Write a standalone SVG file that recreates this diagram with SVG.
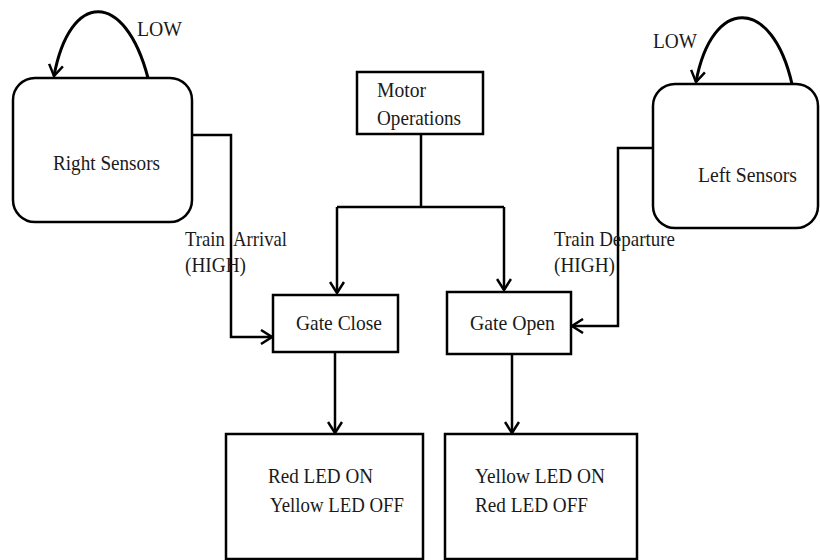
<svg xmlns="http://www.w3.org/2000/svg" width="820" height="560" viewBox="0 0 820 560">
<style>
.box{fill:#fff;stroke:#000;stroke-width:2.5}
.ln{fill:none;stroke:#000;stroke-width:2.5}
.lp{fill:none;stroke:#000;stroke-width:3}
text{font-family:"Liberation Serif","Times New Roman",serif;fill:#1a1a1a;font-size:22px}
.sm{font-size:21px}
</style>
<defs>
<marker id="ah" markerUnits="userSpaceOnUse" markerWidth="14" markerHeight="16" viewBox="0 0 14 16" refX="12" refY="8" orient="auto">
<path d="M1,1 L12,8 L1,15" fill="none" stroke="#000" stroke-width="2.5"/>
</marker>
</defs>
<rect width="820" height="560" fill="#fff"/>
<g id="connectors">
<path class="lp" d="M148,78 C125,-10 70,-10 54,76" marker-end="url(#ah)"/>
<path class="lp" d="M792,84 C772,-4 712,-4 696,82" marker-end="url(#ah)"/>
<path class="ln" d="M421,134 V207"/>
<path class="ln" d="M337,207 H504"/>
<path class="ln" d="M337,207 V293" marker-end="url(#ah)"/>
<path class="ln" d="M504,207 V290" marker-end="url(#ah)"/>
<path class="ln" d="M192,135 H231 V337 H272" marker-end="url(#ah)"/>
<path class="ln" d="M653,148 H618 V326 H572" marker-end="url(#ah)"/>
<path class="ln" d="M335,352 V433" marker-end="url(#ah)"/>
<path class="ln" d="M512,354 V433" marker-end="url(#ah)"/>
</g>
<g id="right-sensors">
<rect class="box" x="13" y="78" width="179" height="144" rx="22"/>
<text x="53" y="170" textLength="107" lengthAdjust="spacingAndGlyphs">Right Sensors</text>
<text x="137" y="36" textLength="45" lengthAdjust="spacingAndGlyphs">LOW</text>
</g>
<g id="left-sensors">
<rect class="box" x="653" y="84" width="165" height="144" rx="22"/>
<text x="698" y="182" textLength="99" lengthAdjust="spacingAndGlyphs">Left Sensors</text>
<text x="653" y="48" textLength="44" lengthAdjust="spacingAndGlyphs">LOW</text>
</g>
<g id="motor-operations">
<rect class="box" x="357" y="72" width="126" height="62"/>
<text x="377" y="97" textLength="49" lengthAdjust="spacingAndGlyphs">Motor</text>
<text x="377" y="125" textLength="84" lengthAdjust="spacingAndGlyphs">Operations</text>
</g>
<g id="gate-close">
<rect class="box" x="273" y="295" width="125" height="57"/>
<text x="296" y="330" textLength="86" lengthAdjust="spacingAndGlyphs">Gate Close</text>
</g>
<g id="gate-open">
<rect class="box" x="447" y="292" width="124" height="62"/>
<text x="470" y="330" textLength="85" lengthAdjust="spacingAndGlyphs">Gate Open</text>
</g>
<g id="train-arrival-label">
<text x="185" y="246" xml:space="preserve" textLength="102" lengthAdjust="spacingAndGlyphs">Train  Arrival</text>
<text x="185" y="272" textLength="61" lengthAdjust="spacingAndGlyphs">(HIGH)</text>
</g>
<g id="train-departure-label">
<text x="554" y="246" textLength="121" lengthAdjust="spacingAndGlyphs">Train Departure</text>
<text x="554" y="272" textLength="61" lengthAdjust="spacingAndGlyphs">(HIGH)</text>
</g>
<g id="red-on">
<rect class="box" x="226" y="434" width="197" height="125"/>
<text class="sm" x="268" y="483" textLength="105" lengthAdjust="spacingAndGlyphs">Red LED ON</text>
<text class="sm" x="270" y="512" textLength="134" lengthAdjust="spacingAndGlyphs">Yellow LED OFF</text>
</g>
<g id="yellow-on">
<rect class="box" x="445" y="434" width="192" height="125"/>
<text class="sm" x="475" y="483" textLength="130" lengthAdjust="spacingAndGlyphs">Yellow LED ON</text>
<text class="sm" x="475" y="512" textLength="113" lengthAdjust="spacingAndGlyphs">Red LED OFF</text>
</g>
</svg>
